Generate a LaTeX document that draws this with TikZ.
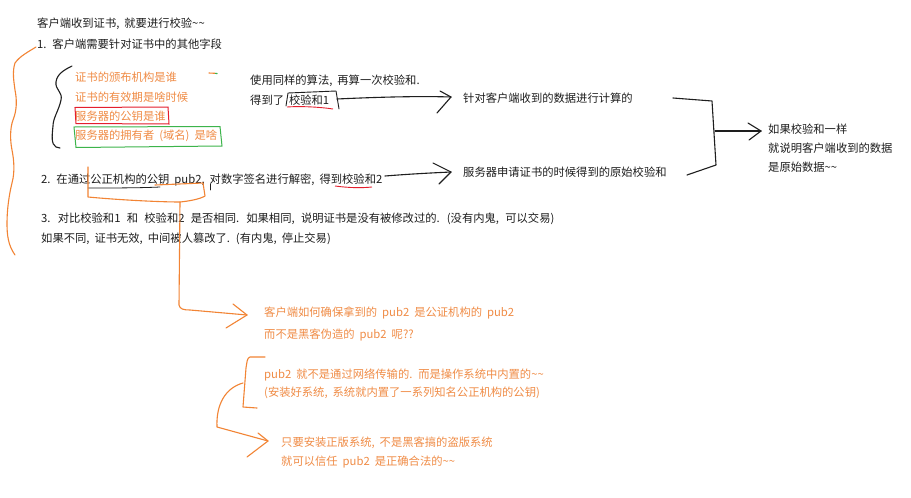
\documentclass[tikz,border=0pt]{standalone}
\usepackage{fontspec}
\setmainfont{Noto Sans CJK SC}
\definecolor{ink}{RGB}{30,30,30}
\definecolor{orng}{RGB}{242,132,52}
\definecolor{otxt}{RGB}{240,140,70}
\definecolor{rbox}{RGB}{228,30,45}
\definecolor{gbox}{RGB}{60,180,75}
\newcommand{\wsp}{\spaceskip=5pt plus 1pt\relax}
\newcommand{\wspwide}{\spaceskip=6.3pt plus 1pt\relax}
\tikzset{
  txt/.style={anchor=west, inner sep=0pt, text=ink, font=\fontsize{11.3}{13}\selectfont\wsp},
  otx/.style={txt, text=otxt},
  pen/.style={draw=ink, line width=1.1pt, line cap=round, line join=round},
  open/.style={draw=orng, line width=1.1pt, line cap=round, line join=round},
}
\begin{document}
\begin{tikzpicture}[x=1pt,y=-1pt]
\useasboundingbox[fill=white] (0,0) rectangle (911,498);
% texts
\node[txt] (t0) at (37,24) {客户端收到证书, 就要进行校验\textasciitilde\textasciitilde};
\node[txt] (t1) at (37,44) {1. 客户端需要针对证书中的其他字段};
\node[otx] (f1) at (75,77) {证书的颁布机构是谁};
\node[otx] (f2) at (75,97) {证书的有效期是啥时候};
\node[otx] (f3) at (75,116) {服务器的公钥是谁};
\node[otx] (f4) at (75,136) {服务器的拥有者 (域名) 是啥};
\node[txt] (a1) at (250,81) {使用同样的算法, 再算一次校验和.};
\node[txt] (a2) at (250,100) {得到了 校验和1};
\node[txt] (c1) at (463,98) {针对客户端收到的数据进行计算的};
\node[txt] (c2) at (463,172) {服务器申请证书的时候得到的原始校验和};
\node[txt] (r1) at (768,129) {如果校验和一样};
\node[txt] (r2) at (768,148) {就说明客户端收到的数据};
\node[txt] (r3) at (768,167) {是原始数据\textasciitilde\textasciitilde};
\node[txt] (t2) at (41,180) {2. 在通过公正机构的公钥 pub2, 对数字签名进行解密, 得到校验和2};
\node[txt, font=\fontsize{11.3}{13}\selectfont\wspwide] (t3) at (41,219) {3. 对比校验和1 和 校验和2 是否相同. 如果相同, 说明证书是没有被修改过的. (没有内鬼, 可以交易)};
\node[txt] (t4) at (41,239) {如果不同, 证书无效, 中间被人篡改了. (有内鬼, 停止交易)};
\node[otx] (q1) at (264,313) {客户端如何确保拿到的 pub2 是公证机构的 pub2};
\node[otx] (q2) at (264,335) {而不是黑客伪造的 pub2 呢??};
\node[otx] (p1) at (264,375) {pub2 就不是通过网络传输的. 而是操作系统中内置的\textasciitilde\textasciitilde};
\node[otx] (p2) at (264,393) {(安装好系统, 系统就内置了一系列知名公正机构的公钥)};
\node[otx] (s1) at (281,443) {只要安装正版系统, 不是黑客搞的盗版系统};
\node[otx] (s2) at (281,462) {就可以信任 pub2 是正确合法的\textasciitilde\textasciitilde};
% big orange brace on the left
\draw[open] (36,47) .. controls (28,52) and (20,56) .. (15,63)
  .. controls (12,72) and (14,82) .. (15,90)
  .. controls (17,100) and (17,110) .. (13,120)
  .. controls (10,128) and (10,140) .. (12,150)
  .. controls (14,160) and (15,172) .. (12,183)
  .. controls (9,195) and (7,210) .. (7,223)
  .. controls (7,235) and (8,245) .. (15,255);
% black brace
\draw[pen] (72,66) .. controls (64,70) and (57,74) .. (56,82)
  .. controls (55,90) and (63,92) .. (61,100)
  .. controls (59,110) and (53,118) .. (53,126)
  .. controls (52,136) and (51,144) .. (56,147) -- (60,148);
% small mark
\draw[open] (209,73) -- (215,73.3);
\draw[draw=gbox, line width=1.1pt] (215,73.3) -- (217.5,73.6);
% red box
\draw[draw=rbox, line width=1pt] (75,107.5) -- (168,107) -- (169,124) -- (76,123.5) -- cycle;
% green box
\draw[draw=gbox, line width=1pt] (74,127) -- (220,126.5) -- (222,146) -- (76,147.5) -- cycle;
% black box around 校验和1
\draw[pen, line width=0.9pt] (286,106) -- (288,93) -- (336,91) -- (339,109);
\draw[draw=rbox, line width=0.9pt] (287,107) .. controls (300,106) and (320,107) .. (333,109);
% arrow to c1
\coordinate (k1) at (337,99);
\coordinate (k1e) at (451,97);
\draw[pen] (k1) .. controls (380,97) and (420,96) .. (k1e);
\draw[pen] (440,91) -- (k1e) -- (437,113);
% right bracket
\draw[pen] (673,98) -- (712,101) -- (716,165) -- (687,175);
\coordinate (rb) at (715,131);
\coordinate (rbe) at (761,131);
\draw[pen] (rb) -- (rbe);
\draw[pen] (748,123) -- (rbe) -- (749,140);
% arrow to c2
\coordinate (k2) at (385,176);
\coordinate (k2e) at (451,172);
\draw[pen] (k2) .. controls (410,174) and (430,173) .. (k2e);
\draw[pen] (433,163) -- (k2e) -- (439,184);
% underlines in line 2
\draw[pen, line width=0.8pt] (88,188) .. controls (110,188) and (140,188) .. (160,187);
\draw[pen, line width=0.8pt] (210,184) -- (210,190);
\draw[draw=rbox, line width=0.9pt] (335,186) .. controls (350,188) and (362,188) .. (372,187);
% orange box around 公正机构的公钥 pub2
\draw[open] (88,167) -- (88,197) .. controls (120,200) and (160,202) .. (180,202)
  .. controls (190,201) and (200,199) .. (205,196) -- (203,183) -- (155,185);
% orange arrow down to q1
\coordinate (ob) at (180,202);
\coordinate (obe) at (247,315);
\draw[open] (ob) -- (179,305) .. controls (180,309) and (183,310) .. (190,310) -- (obe);
\draw[open] (233,304) -- (obe) -- (226,328);
% orange bracket near p1
\draw[open] (265,357) -- (250,357) .. controls (247,358) and (247,362) .. (246,368) -- (243,407) -- (257,408);
% orange curved arrow to s1
\coordinate (cv) at (243,383);
\coordinate (cve) at (268,441);
\draw[open] (cv) .. controls (225,388) and (216,405) .. (217,427) -- (cve);
\draw[open] (258,433) -- (cve) -- (247,457);
\end{tikzpicture}
\end{document}
